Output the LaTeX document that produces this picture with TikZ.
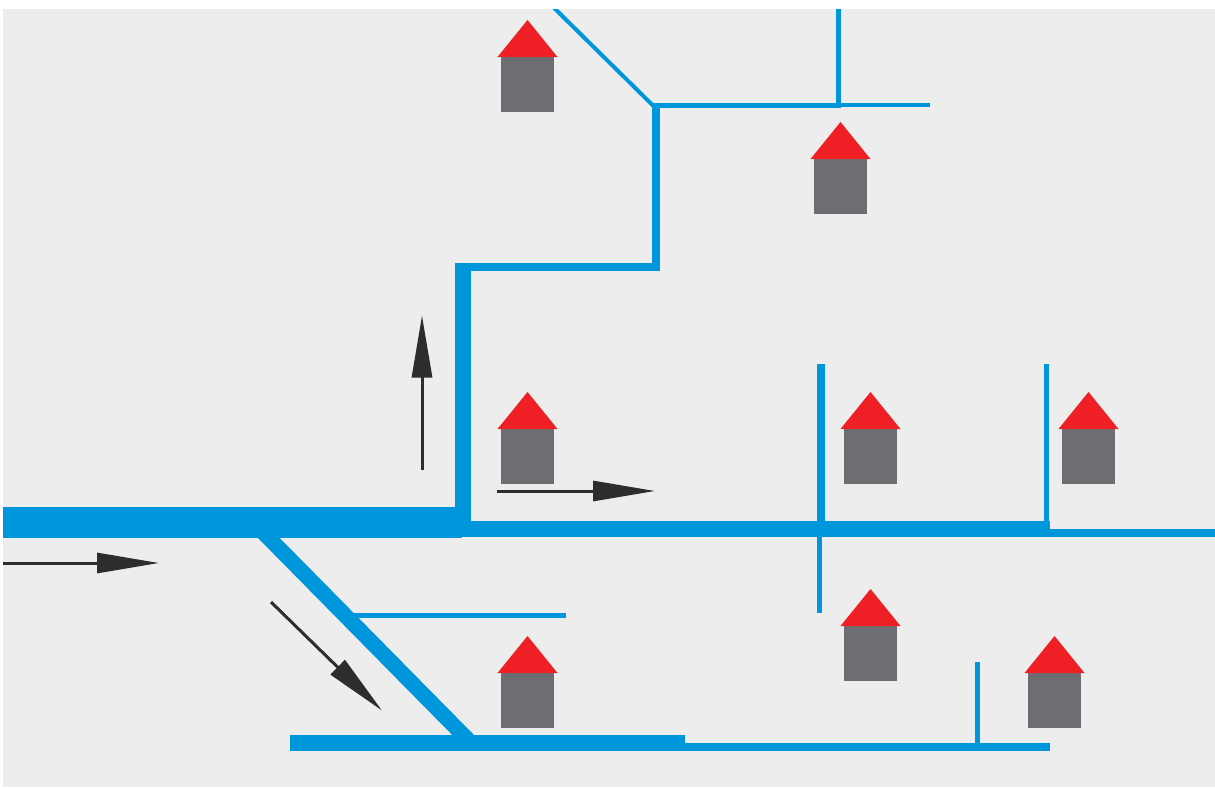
\documentclass[tikz,border=0pt]{standalone}
\usepackage{xcolor}
\usetikzlibrary{arrows.meta}
\definecolor{sheetgray}{HTML}{EDEDED}
\definecolor{pipeblue}{HTML}{0096DB}
\definecolor{roofred}{HTML}{EF1F26}
\definecolor{wallgray}{HTML}{6D6E71}
\definecolor{flowdark}{HTML}{2E2C2E}
\tikzset{
  pipe/.style={pipeblue,line cap=butt},
  flow/.style={flowdark,line width=3pt,-{Triangle[length=62pt,width=20pt]}},
}

\begin{document}
\begin{tikzpicture}[x=1pt,y=-1pt]
  \useasboundingbox (0,0) rectangle (1215,787);
  \fill[sheetgray] (3,9) rectangle (1215,787);
  \begin{scope}
    \clip (3,9) rectangle (1215,787);
    % main line and its branches
    \draw[pipe,line width=31pt] (3,522.5) -- (462,522.5);
    \draw[pipe,line width=16pt] (463,263) -- (463,521);
    \draw[pipe,line width=8pt] (455,267) -- (660,267);
    \draw[pipe,line width=8pt] (656,105) -- (656,271);
    \draw[pipe,line width=5pt] (654,105.5) -- (841,105.5);
    \draw[pipe,line width=4pt] (841,105) -- (930,105);
    \draw[pipe,line width=5pt] (838.5,9) -- (838.5,108);
    \draw[pipe,line width=4pt] (545,-1) -- (654.5,107);
    % street to the right
    \draw[pipe,line width=16pt] (462,529) -- (1050,529);
    \draw[pipe,line width=8pt] (1050,533) -- (1215,533);
    \draw[pipe,line width=8pt] (821,364) -- (821,521);
    \draw[pipe,line width=5pt] (819.5,537) -- (819.5,613);
    \draw[pipe,line width=5pt] (1046.5,364) -- (1046.5,521);
    % street to the south
    \draw[pipe,line width=15.5pt] (259,528) -- (471,743);
    \draw[pipe,line width=5pt] (353,615.5) -- (566,615.5);
    \draw[pipe,line width=16pt] (290,743) -- (685,743);
    \draw[pipe,line width=8pt] (685,747) -- (1050,747);
    \draw[pipe,line width=5pt] (977.5,662) -- (977.5,743);
  \end{scope}
  % houses
  \foreach \hx/\hy in {501/57,814/159,501/429,844/429,1062/429,844/626,1028/673,501/673} {
    \fill[wallgray] (\hx,\hy) rectangle ++(53,55);
    \fill[roofred] (\hx-3.5,\hy) -- (\hx+26.5,\hy-37) -- (\hx+56.5,\hy) -- cycle;
  }
  % flow arrows
  \coordinate (inA) at (3,563);
  \coordinate (inB) at (159,563);
  \coordinate (upA) at (422,470);
  \coordinate (upB) at (422,315.5);
  \coordinate (eastA) at (497,491);
  \coordinate (eastB) at (655,491);
  \coordinate (southA) at (271,602);
  \coordinate (southB) at (382,710.5);
  \draw[flow] (inA) -- (inB);
  \draw[flow] (upA) -- (upB);
  \draw[flow] (eastA) -- (eastB);
  \draw[flow] (southA) -- (southB);
\end{tikzpicture}
\end{document}
